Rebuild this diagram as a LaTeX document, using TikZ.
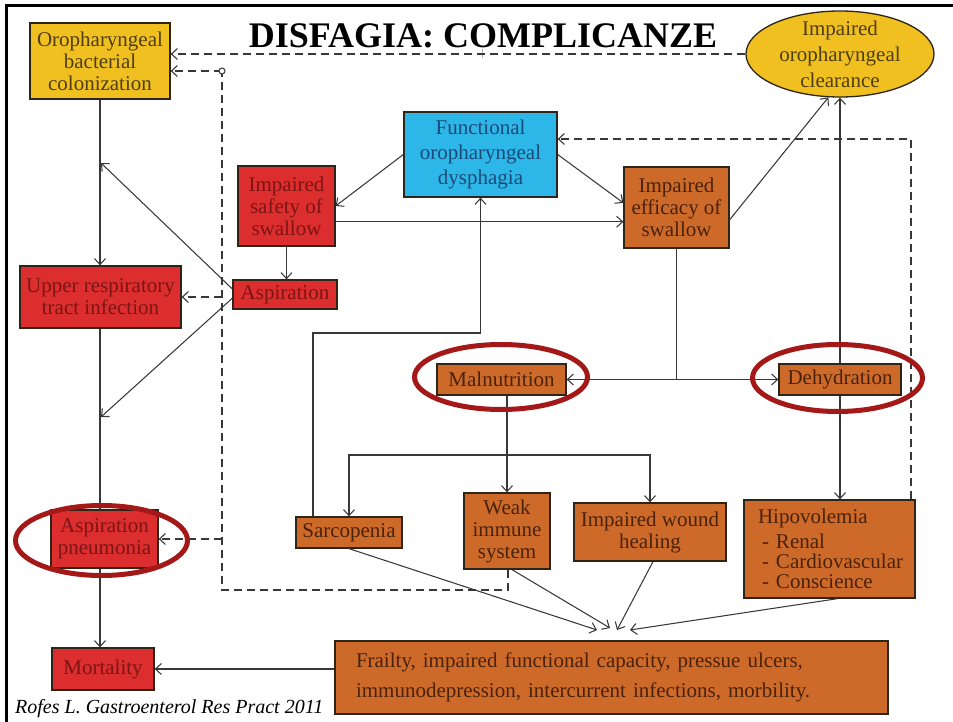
\documentclass[tikz,border=0pt]{standalone}
\usepackage{fontspec}
\setmainfont{Liberation Serif}
\usetikzlibrary{arrows.meta,shapes.geometric,calc}
\definecolor{cyel}{HTML}{F0C020}
\definecolor{tyel}{HTML}{4E3E10}
\definecolor{ccyan}{HTML}{2DB6E8}
\definecolor{tcyan}{HTML}{1A4A78}
\definecolor{cred}{HTML}{DC2E2E}
\definecolor{tred}{HTML}{7E1414}
\definecolor{corg}{HTML}{CD6A2A}
\definecolor{torg}{HTML}{4A220A}
\definecolor{cborder}{HTML}{2E2418}
\definecolor{cline}{HTML}{383838}
\definecolor{cring}{HTML}{A41818}
\begin{document}
\begin{tikzpicture}[x=1pt,y=-1pt,
  box/.style={draw=cborder, line width=1.3pt, inner sep=0pt, align=center, font=\fontsize{21}{22}\selectfont},
  ybox/.style={box, fill=cyel, text=tyel},
  cbox/.style={box, fill=ccyan, text=tcyan},
  redbox/.style={box, fill=cred, text=tred},
  orbox/.style={box, fill=corg, text=torg},
  plain/.style={draw=cline, line width=1.05pt},
  conn/.style={plain, -{Straight Barb[length=6pt,width=11pt]}},
  dpath/.style={draw=cline, line width=1.8pt, dash pattern=on 8pt off 5pt},
  dconn/.style={dpath, -{Straight Barb[length=6pt,width=11pt,line width=1.1pt]}},
  ring/.style={draw=cring, line width=5pt, ellipse, inner sep=0pt}]
\useasboundingbox (0,0) rectangle (953,722);
\fill[white] (0,0) rectangle (953,722);
\draw[line width=3pt] (6,722) -- (6,6) -- (953,6);

% title and citation
\node[font=\fontsize{36}{40}\selectfont\bfseries, anchor=base, inner sep=0pt] (title) at (483,48) {DISFAGIA: COMPLICANZE};
\node[font=\fontsize{20}{22}\selectfont\itshape, anchor=base west, inner sep=0pt] (cite) at (15,713) {Rofes L. Gastroenterol Res Pract 2011};
\draw[gray!60, line width=1pt] (482,49) -- (482,58);

% nodes
\node[ybox, minimum width=140pt, minimum height=76pt] (colon) at (100,61) {Oropharyngeal\\bacterial\\colonization};
\node[ybox, ellipse, inner xsep=0pt, inner ysep=-5pt, minimum width=188pt, minimum height=86pt] (clear) at (840,54) {Impaired\\[4pt]oropharyngeal\\[4pt]clearance};
\node[cbox, minimum width=153pt, minimum height=85pt] (fod) at (480.5,154.5) {Functional\\[3pt]oropharyngeal\\[3pt]dysphagia};
\node[redbox, minimum width=97pt, minimum height=80pt] (safety) at (286.5,206) {Impaired\\safety of\\swallow};
\node[orbox, minimum width=105pt, minimum height=81pt] (efficacy) at (676.5,207.5) {Impaired\\efficacy of\\swallow};
\node[redbox, minimum width=104pt, minimum height=29pt] (aspir) at (285,294.5) {Aspiration};
\node[redbox, minimum width=161pt, minimum height=62pt] (urti) at (100.5,297) {Upper respiratory\\tract infection};
\node[orbox, minimum width=129pt, minimum height=31pt] (maln) at (501.5,379.5) {Malnutrition};
\node[orbox, minimum width=122pt, minimum height=31pt] (dehy) at (840,379.5) {Dehydration};
\node[orbox, minimum width=106pt, minimum height=31pt] (sarc) at (349,532.5) {Sarcopenia};
\node[orbox, minimum width=86pt, minimum height=76pt] (weak) at (507,531) {Weak\\immune\\system};
\node[orbox, minimum width=152pt, minimum height=58pt] (wound) at (650,532) {Impaired wound\\healing};
\node[orbox, minimum width=171pt, minimum height=98pt, text width=163pt, inner xsep=4pt, align=left] (hipo) at (829.5,549) {\hspace*{10pt}Hipovolemia\\[3pt]\hspace*{14pt}- Renal\\[-2pt]\hspace*{14pt}- Cardiovascular\\[-2pt]\hspace*{14pt}- Conscience};
\node[orbox, minimum width=553pt, minimum height=73pt, text width=511pt, inner xsep=21pt, align=left] (frail) at (611.5,677.5) {Frailty, impaired functional capacity, pressue ulcers,\\[8pt]immunodepression, intercurrent infections, morbility.};
\node[redbox, minimum width=107pt, minimum height=58pt] (aspn) at (104.5,539) {Aspiration\\pneumonia};
\node[redbox, minimum width=102pt, minimum height=42pt] (mort) at (103,669) {Mortality};

% helper coordinates
\coordinate (vx) at (100,0);
\coordinate (p1) at (101,163);
\coordinate (p2) at (101,417);
\coordinate (dtop) at (222,71);
\coordinate (dbot) at (222,590);
\coordinate (hr) at (911,139);
\coordinate (sj) at (313,333);
\coordinate (mj) at (507,455);
\coordinate (c1) at (597,630);
\coordinate (c2) at (610,628);
\coordinate (c3) at (617,630);
\coordinate (c4) at (630,630);

% left column
\draw[conn] (vx |- colon.south) -- (vx |- urti.north);
\draw[plain] (vx |- urti.south) -- (vx |- aspn.north);
\draw[conn] (vx |- aspn.south) -- (vx |- mort.north);
\draw[conn] (aspir.174) -- (p1);
\draw[conn] (aspir.184) -- (p2);
\draw[conn] (frail.west |- mort.east) -- (mort.east);

% dashed feedback paths
\draw[dpath] ([xshift=1pt]weak.south) |- (dbot) -- (dtop);
\draw[dconn] (dtop) -- (colon.east |- dtop);
\draw[dconn] (dtop |- urti.east) -- (urti.east);
\draw[dconn] (dtop |- aspn.east) -- (aspn.east);
\draw[draw=cline, line width=1pt, fill=white] (dtop) circle (3pt);
\draw[dconn] (clear.west) -- (colon.east |- clear.west);
\draw[dconn] (hr |- hipo.north) -- (hr) -- (fod.east |- hr);

% upper flow
\draw[conn] (fod.west) -- (safety.east);
\draw[conn] (fod.east) -- (efficacy.175);
\draw[conn] (safety.east |- efficacy.195) -- (efficacy.195);
\draw[conn] (safety.south) -- (safety.south |- aspir.north);
\draw[conn] (efficacy.-13) -- (clear.255);
\draw[conn] (dehy.north) -- (clear.south);
\draw[conn] (dehy.south) -- (dehy.south |- hipo.north);
\draw[plain] (efficacy.south) -- (efficacy.south |- maln.east) coordinate (ej);
\draw[conn] (ej) -- (maln.east);
\draw[conn] (ej) -- (dehy.west);
\draw[conn] (sj |- sarc.north) -- (sj) -| (fod.south);

% malnutrition branches
\draw[plain] (mj |- maln.south) -- (mj);
\draw[conn] (mj) -- (weak.north);
\draw[conn] (mj) -| (sarc.north);
\draw[conn] (mj) -| (wound.north);

% convergence on frailty
\draw[conn] (sarc.south) -- (c1);
\draw[conn] ([xshift=5pt]weak.south) -- (c2);
\draw[conn] ([xshift=3pt]wound.south) -- (c3);
\draw[conn] ([xshift=8pt]hipo.south) -- (c4);

% highlight rings
\node[ring, minimum width=173pt, minimum height=65pt] (r1) at (501,377) {};
\node[ring, minimum width=170pt, minimum height=67pt] (r2) at (837.5,378) {};
\node[ring, minimum width=172pt, minimum height=70pt] (r3) at (101.5,540.5) {};
\end{tikzpicture}
\end{document}
